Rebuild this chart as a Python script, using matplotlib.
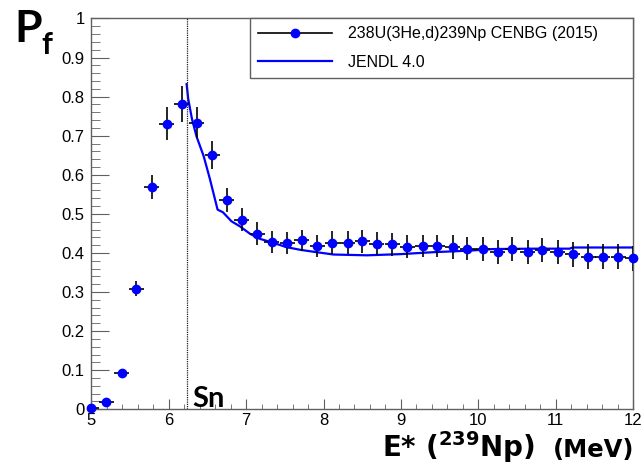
import matplotlib
matplotlib.use("Agg")
import matplotlib.pyplot as plt
from matplotlib.lines import Line2D
from matplotlib.ticker import MultipleLocator, FixedLocator, FixedFormatter

# measured fission probability, 238U(3He,d)239Np
energy = [5.00, 5.19, 5.39, 5.58, 5.78, 5.97, 6.17, 6.36, 6.56, 6.75,
          6.94, 7.14, 7.33, 7.53, 7.72, 7.92, 8.11, 8.31, 8.50, 8.69,
          8.89, 9.08, 9.28, 9.47, 9.67, 9.86, 10.06, 10.25, 10.44, 10.64,
          10.83, 11.03, 11.22, 11.42, 11.61, 11.81, 12.00]
pf = [0.004, 0.018, 0.094, 0.309, 0.569, 0.731, 0.782, 0.733, 0.650, 0.536,
      0.485, 0.449, 0.428, 0.426, 0.432, 0.418, 0.426, 0.426, 0.430, 0.424,
      0.422, 0.416, 0.418, 0.418, 0.415, 0.411, 0.410, 0.403, 0.410, 0.403,
      0.408, 0.403, 0.397, 0.390, 0.390, 0.390, 0.387]
pf_err = [0.0, 0.0, 0.004, 0.020, 0.031, 0.042, 0.046, 0.040, 0.036, 0.030,
          0.029, 0.029, 0.028, 0.028, 0.028, 0.028, 0.029, 0.029, 0.029, 0.029,
          0.029, 0.029, 0.029, 0.029, 0.030, 0.030, 0.030, 0.030, 0.031, 0.031,
          0.031, 0.031, 0.032, 0.032, 0.032, 0.032, 0.032]
energy_halfbin = 0.097

# JENDL 4.0 evaluation
jendl_e = [6.23, 6.25, 6.30, 6.36, 6.45, 6.53, 6.63, 6.70, 6.81, 6.92,
           7.05, 7.18, 7.35, 7.52, 7.70, 7.91, 8.13, 8.56, 8.99, 9.42,
           9.89, 10.19, 10.71, 11.18, 11.22, 12.00]
jendl_pf = [0.832, 0.795, 0.742, 0.697, 0.648, 0.590, 0.511, 0.504, 0.481, 0.468,
            0.449, 0.436, 0.426, 0.415, 0.408, 0.402, 0.396, 0.394, 0.397, 0.402,
            0.406, 0.410, 0.411, 0.411, 0.414, 0.414]

sn_energy = 6.23

y_ticks = [0, 0.1, 0.2, 0.3, 0.4, 0.5, 0.6, 0.7, 0.8, 0.9, 1.0]
y_tick_labels = ["0", "0.1", "0.2", "0.3", "0.4", "0.5", "0.6", "0.7", "0.8", "0.9", "1"]
x_ticks = [5, 6, 7, 8, 9, 10, 11, 12]

label_data = "238U(3He,d)239Np CENBG (2015)"
label_jendl = "JENDL 4.0"

plt.rcParams["font.family"] = ["Liberation Sans", "DejaVu Sans"]
plt.rcParams["mathtext.fontset"] = "dejavusans"

fig = plt.figure(figsize=(6.41, 4.73), dpi=100)
ax = fig.add_axes([0.1427, 0.1347, 0.8448, 0.8262])

eb = ax.errorbar(energy, pf, xerr=energy_halfbin, yerr=pf_err, fmt="o", color="#0000ff",
                 ecolor="black", elinewidth=1.2, markersize=6, capsize=0, zorder=3)
eb[0].set_clip_on(False)
line_jendl, = ax.plot(jendl_e, jendl_pf, color="#0000ff", linewidth=1.6, zorder=2)
ax.axvline(sn_energy, color="#222222", linestyle=(0, (1, 0.8)), linewidth=0.9)

ax.set_xlim(5, 12)
ax.set_ylim(0, 1)
ax.yaxis.set_major_locator(FixedLocator(y_ticks))
ax.yaxis.set_major_formatter(FixedFormatter(y_tick_labels))
ax.yaxis.set_minor_locator(MultipleLocator(0.02))
ax.xaxis.set_major_locator(FixedLocator(x_ticks))
ax.xaxis.set_minor_locator(MultipleLocator(0.2))

for side in ax.spines.values():
    side.set_color("#606060")
    side.set_linewidth(1.0)
ax.tick_params(axis="both", which="both", direction="in", colors="#606060",
               labelcolor="black", labelsize=12, top=False, right=False)
ax.tick_params(axis="y", which="major", length=13, pad=5)
ax.tick_params(axis="y", which="minor", length=6.5)
ax.tick_params(axis="x", which="major", length=7, pad=3)
ax.tick_params(axis="x", which="minor", length=3.6)

# ROOT-style legend entry: line with marker, no vertical bar
data_handle = Line2D([], [], color="black", linewidth=1.2, marker="o", markersize=6,
                     markerfacecolor="#0000ff", markeredgecolor="#0000ff")
leg = ax.legend([data_handle, line_jendl], [label_data, label_jendl],
                loc="upper left", bbox_to_anchor=(0.293, 0.845, 0.707, 0.155),
                mode="expand", borderaxespad=0, fancybox=False, fontsize=11.5,
                handlelength=4.6, handletextpad=1.0, labelspacing=0.85,
                borderpad=0.5, framealpha=1)
leg.get_frame().set_edgecolor("#606060")
leg.get_frame().set_linewidth(1.0)

ax.text(6.31, 0.006, "Sn", fontsize=21, fontfamily="Lato", fontweight="bold",
        va="baseline", ha="left")

fig.text(0.022, 0.911, "P", fontsize=32, fontfamily="Lato", fontweight="bold",
         va="baseline", ha="left")
fig.text(0.064, 0.886, "f", fontsize=22, fontfamily="Lato", fontweight="bold",
         va="baseline", ha="left")

ax.text(0.819, -0.122, r"E* ($\mathbf{^{239}}$Np)", transform=ax.transAxes,
        fontsize=20, fontfamily="DejaVu Sans", fontweight="bold",
        va="baseline", ha="right")
ax.text(1.003, -0.122, "(MeV)", transform=ax.transAxes, fontsize=17.5,
        fontfamily="DejaVu Sans", fontweight="bold", va="baseline", ha="right")

fig.savefig("out.png", dpi=100)
